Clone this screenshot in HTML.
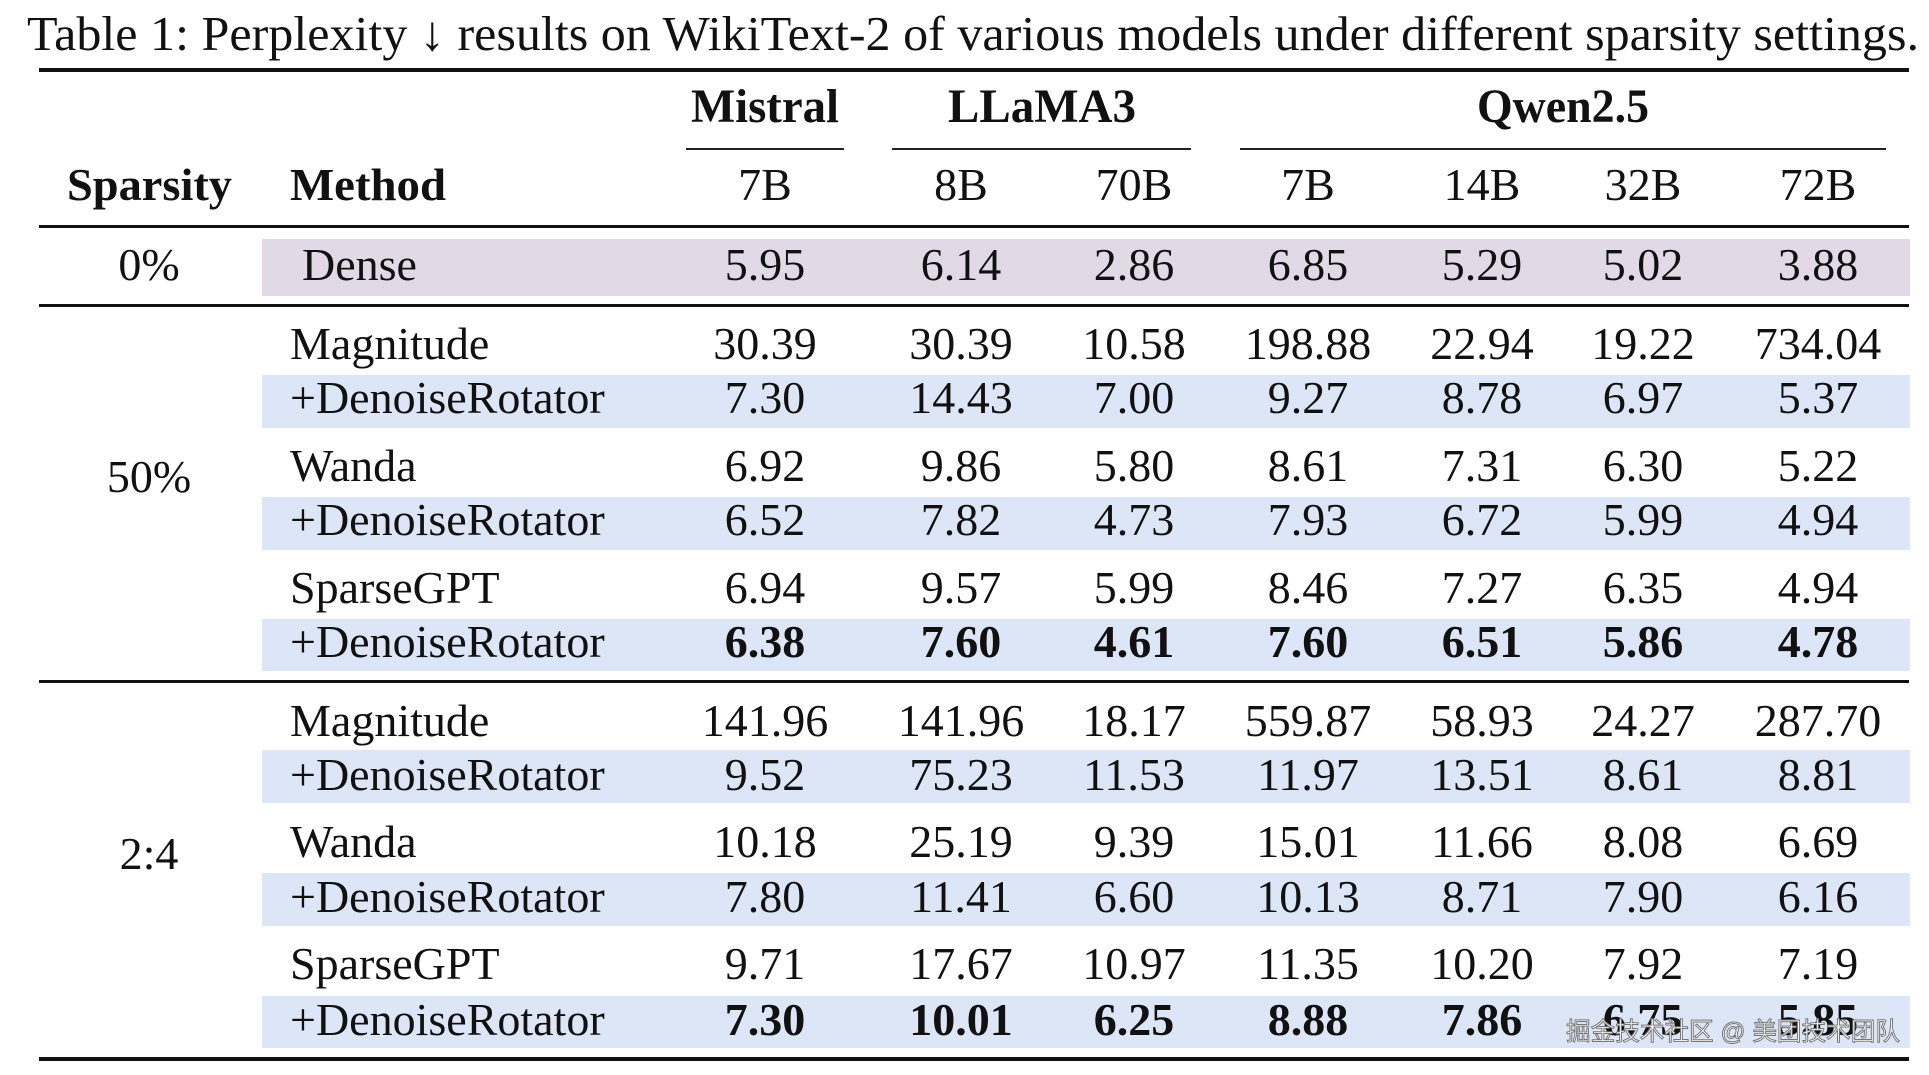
<!DOCTYPE html>
<html><head><meta charset="utf-8"><style>
html,body{margin:0;padding:0;background:#fff;}
svg{display:block;}
text{font-family:"Liberation Serif",serif;fill:#111;}
.b{font-weight:bold;}
</style></head><body>
<svg width="1929" height="1075" viewBox="0 0 1929 1075" xmlns="http://www.w3.org/2000/svg">
<text x="27" y="50" font-size="49" textLength="1892" lengthAdjust="spacingAndGlyphs">Table 1: Perplexity ↓ results on WikiText-2 of various models under different sparsity settings.</text>
<rect x="39" y="68" width="1870" height="4" fill="#111"/>
<g font-size="48" class="b" text-anchor="middle">
<text x="765" y="122" class="b" textLength="148" lengthAdjust="spacingAndGlyphs">Mistral</text>
<text x="1042" y="122" class="b" textLength="188" lengthAdjust="spacingAndGlyphs">LLaMA3</text>
<text x="1563" y="122" class="b" textLength="172" lengthAdjust="spacingAndGlyphs">Qwen2.5</text>
</g>
<rect x="686" y="148" width="158" height="2" fill="#222"/>
<rect x="892" y="148" width="299" height="2" fill="#222"/>
<rect x="1240" y="148" width="646" height="2" fill="#222"/>
<text x="67" y="200" font-size="46" class="b" textLength="165" lengthAdjust="spacingAndGlyphs">Sparsity</text>
<text x="290" y="200" font-size="46" class="b" textLength="156" lengthAdjust="spacingAndGlyphs">Method</text>
<g font-size="46" text-anchor="middle">
<text x="765" y="200">7B</text><text x="961" y="200">8B</text><text x="1134" y="200">70B</text><text x="1308" y="200">7B</text><text x="1482" y="200">14B</text><text x="1643" y="200">32B</text><text x="1818" y="200">72B</text>
</g>
<rect x="39" y="225" width="1870" height="3" fill="#111"/>
<rect x="262" y="239" width="1648" height="57" fill="#e2d9e7"/>
<rect x="39" y="304" width="1870" height="3" fill="#111"/>
<rect x="262" y="375" width="1648" height="53" fill="#dce6f7"/>
<rect x="262" y="497" width="1648" height="53" fill="#dce6f7"/>
<rect x="262" y="619" width="1648" height="52" fill="#dce6f7"/>
<rect x="39" y="680" width="1870" height="3" fill="#111"/>
<rect x="262" y="750" width="1648" height="53" fill="#dce6f7"/>
<rect x="262" y="873" width="1648" height="53" fill="#dce6f7"/>
<rect x="262" y="996" width="1648" height="52" fill="#dce6f7"/>
<rect x="39" y="1057" width="1870" height="4" fill="#111"/>
<g font-size="46" text-anchor="middle">
<text x="149" y="280">0%</text>
<text x="149" y="492">50%</text>
<text x="149" y="869">2:4</text>
</g>
<g font-size="46">
<text x="302" y="280">Dense</text>
<text x="290" y="359">Magnitude</text>
<text x="290" y="413">+DenoiseRotator</text>
<text x="290" y="481">Wanda</text>
<text x="290" y="535">+DenoiseRotator</text>
<text x="290" y="603">SparseGPT</text>
<text x="290" y="657">+DenoiseRotator</text>
<text x="290" y="736">Magnitude</text>
<text x="290" y="790">+DenoiseRotator</text>
<text x="290" y="857">Wanda</text>
<text x="290" y="912">+DenoiseRotator</text>
<text x="290" y="979">SparseGPT</text>
<text x="290" y="1035">+DenoiseRotator</text>
</g>
<g font-size="46" text-anchor="middle">
<g transform="translate(0,280)"><text x="765">5.95</text><text x="961">6.14</text><text x="1134">2.86</text><text x="1308">6.85</text><text x="1482">5.29</text><text x="1643">5.02</text><text x="1818">3.88</text></g>
<g transform="translate(0,359)"><text x="765">30.39</text><text x="961">30.39</text><text x="1134">10.58</text><text x="1308">198.88</text><text x="1482">22.94</text><text x="1643">19.22</text><text x="1818">734.04</text></g>
<g transform="translate(0,413)"><text x="765">7.30</text><text x="961">14.43</text><text x="1134">7.00</text><text x="1308">9.27</text><text x="1482">8.78</text><text x="1643">6.97</text><text x="1818">5.37</text></g>
<g transform="translate(0,481)"><text x="765">6.92</text><text x="961">9.86</text><text x="1134">5.80</text><text x="1308">8.61</text><text x="1482">7.31</text><text x="1643">6.30</text><text x="1818">5.22</text></g>
<g transform="translate(0,535)"><text x="765">6.52</text><text x="961">7.82</text><text x="1134">4.73</text><text x="1308">7.93</text><text x="1482">6.72</text><text x="1643">5.99</text><text x="1818">4.94</text></g>
<g transform="translate(0,603)"><text x="765">6.94</text><text x="961">9.57</text><text x="1134">5.99</text><text x="1308">8.46</text><text x="1482">7.27</text><text x="1643">6.35</text><text x="1818">4.94</text></g>
<g transform="translate(0,657)" class="b"><text class="b" x="765">6.38</text><text class="b" x="961">7.60</text><text class="b" x="1134">4.61</text><text class="b" x="1308">7.60</text><text class="b" x="1482">6.51</text><text class="b" x="1643">5.86</text><text class="b" x="1818">4.78</text></g>
<g transform="translate(0,736)"><text x="765">141.96</text><text x="961">141.96</text><text x="1134">18.17</text><text x="1308">559.87</text><text x="1482">58.93</text><text x="1643">24.27</text><text x="1818">287.70</text></g>
<g transform="translate(0,790)"><text x="765">9.52</text><text x="961">75.23</text><text x="1134">11.53</text><text x="1308">11.97</text><text x="1482">13.51</text><text x="1643">8.61</text><text x="1818">8.81</text></g>
<g transform="translate(0,857)"><text x="765">10.18</text><text x="961">25.19</text><text x="1134">9.39</text><text x="1308">15.01</text><text x="1482">11.66</text><text x="1643">8.08</text><text x="1818">6.69</text></g>
<g transform="translate(0,912)"><text x="765">7.80</text><text x="961">11.41</text><text x="1134">6.60</text><text x="1308">10.13</text><text x="1482">8.71</text><text x="1643">7.90</text><text x="1818">6.16</text></g>
<g transform="translate(0,979)"><text x="765">9.71</text><text x="961">17.67</text><text x="1134">10.97</text><text x="1308">11.35</text><text x="1482">10.20</text><text x="1643">7.92</text><text x="1818">7.19</text></g>
<g transform="translate(0,1035)"><text class="b" x="765">7.30</text><text class="b" x="961">10.01</text><text class="b" x="1134">6.25</text><text class="b" x="1308">8.88</text><text class="b" x="1482">7.86</text><text class="b" x="1643">6.75</text><text class="b" x="1818">5.85</text></g>
</g>
<text x="1566" y="1040" font-size="25" style="font-family:'Liberation Sans','Noto Sans CJK SC',sans-serif;fill:#fff;stroke:#777;stroke-width:1" textLength="334" lengthAdjust="spacingAndGlyphs">掘金技术社区 @ 美团技术团队</text>
</svg>
</body></html>
